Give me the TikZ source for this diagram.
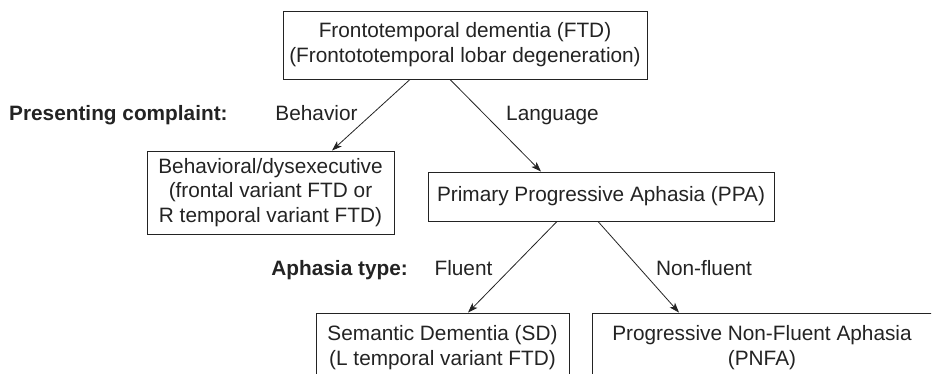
\documentclass[tikz,border=0pt]{standalone}
\usepackage{fontspec}
\setmainfont{Liberation Sans}
\usepackage{tikz}
\usetikzlibrary{arrows.meta}
\definecolor{inkgray}{RGB}{35,35,35}
\newcommand{\ftdfont}{\fontsize{20.8}{24.8}\selectfont}

\begin{document}
\begin{tikzpicture}[x=1pt,y=-1pt,
  box/.style={rectangle,draw=inkgray,line width=0.9pt,align=center,
    inner sep=0pt,text=inkgray,font=\ftdfont},
  tag/.style={inner sep=0pt,text=inkgray,font=\ftdfont,
    text height=15pt,text depth=0pt},
  arrow/.style={-{Stealth[length=10pt,width=7pt,inset=2.5pt]},line width=0.8pt,color=inkgray},
]
  \useasboundingbox (0,0) rectangle (932,373);
  \clip (0,0) rectangle (931,373);
  \node[box,minimum width=364pt,minimum height=68pt] (ftd) at (465,45)
    {Frontotemporal dementia (FTD)\\(Frontototemporal lobar degeneration)};
  \node[box,minimum width=247pt,minimum height=83pt] (bvftd) at (270.5,192.5)
    {Behavioral/dysexecutive\\(frontal variant FTD or\\R temporal variant FTD)};
  \node[box,minimum width=346pt,minimum height=49pt] (ppa) at (601,196.5)
    {Primary Progressive Aphasia (PPA)};
  \node[box,minimum width=253pt,minimum height=70pt] (sd) at (442.5,348)
    {Semantic Dementia (SD)\\(L temporal variant FTD)};
  \node[box,minimum width=340pt,minimum height=70pt] (pnfa) at (762,348)
    {Progressive Non-Fluent Aphasia\\(PNFA)};
  \node[tag,anchor=west] (complaint) at (9,113) {\textbf{Presenting complaint:}};
  \node[tag] (behav) at (316.5,113) {Behavior};
  \node[tag] (lang) at (552.5,113) {Language};
  \node[tag,anchor=east] (atype) at (408,268) {\textbf{Aphasia type:}};
  \node[tag] (fluent) at (463.5,268) {Fluent};
  \node[tag] (nonfluent) at (704,268) {Non-fluent};
  \draw[arrow] ([xshift=-55pt]ftd.south) -- ([xshift=61.5pt]bvftd.north);
  \draw[arrow] ([xshift=-15pt]ftd.south) -- ([xshift=-60pt]ppa.north);
  \draw[arrow] ([xshift=-44pt]ppa.south) -- ([xshift=25.5pt]sd.north);
  \draw[arrow] ([xshift=-3pt]ppa.south) -- ([xshift=-83pt]pnfa.north);
\end{tikzpicture}
\end{document}
